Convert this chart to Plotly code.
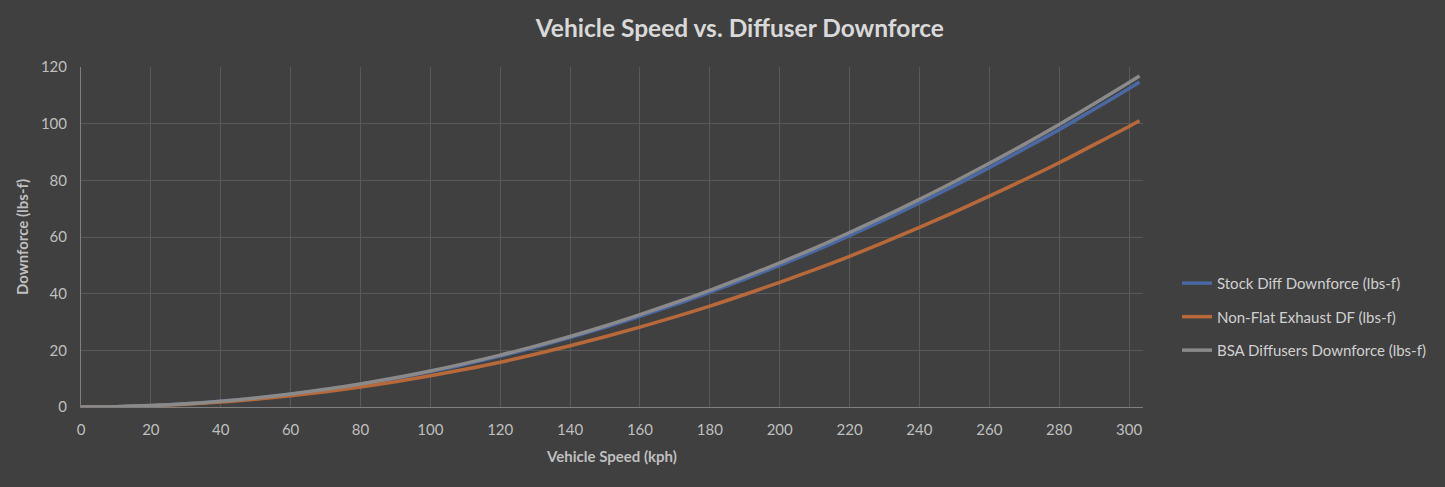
import plotly.graph_objects as go

speed = [0, 10, 20, 30, 40, 50, 60, 70, 80, 90, 100, 110, 120, 130, 140, 150,
         160, 170, 180, 190, 200, 210, 220, 230, 240, 250, 260, 270, 280, 290, 300, 303]
stock_df = [0, 0.12, 0.5, 1.12, 2.0, 3.12, 4.5, 6.12, 8.0, 10.1, 12.5, 15.1, 18.0, 21.1, 24.5, 28.1,
            32.0, 36.1, 40.5, 45.1, 50.0, 55.1, 60.5, 66.1, 72.0, 78.1, 84.5, 91.1, 97.9, 105.1, 112.4, 114.7]
nonflat_df = [0, 0.11, 0.44, 0.99, 1.76, 2.75, 3.96, 5.39, 7.04, 8.91, 11.0, 13.3, 15.8, 18.6, 21.6, 24.8,
              28.2, 31.8, 35.6, 39.7, 44.0, 48.5, 53.2, 58.2, 63.4, 68.8, 74.4, 80.2, 86.2, 92.6, 99.0, 101.0]
bsa_df = [0, 0.13, 0.51, 1.14, 2.04, 3.18, 4.58, 6.23, 8.14, 10.3, 12.7, 15.4, 18.3, 21.5, 24.9, 28.6,
          32.6, 36.8, 41.2, 45.9, 50.9, 56.1, 61.6, 67.3, 73.3, 79.5, 86.0, 92.7, 99.7, 107.0, 114.5, 116.8]

names = ["Stock Diff Downforce (lbs-f)", "Non-Flat Exhaust DF (lbs-f)", "BSA Diffusers Downforce (lbs-f)"]
colors = ["#4a68a3", "#b8693a", "#8a8a8a"]
series = [stock_df, nonflat_df, bsa_df]

FONT = "Lato, 'Open Sans', sans-serif"
fig = go.Figure()
for i, (n, c, s) in enumerate(zip(names, colors, series)):
    fig.add_trace(go.Scatter(x=speed, y=s, mode="lines", name=n, legendgroup=n,
                             line=dict(color=c, width=3.5, shape="spline")))

fig.update_layout(
    width=1445, height=487,
    paper_bgcolor="#404040", plot_bgcolor="#404040",
    margin=dict(l=81, r=302, t=67, b=80),
    font=dict(family=FONT, color="#bfbfbf", size=14),
    title=dict(text="<b>Vehicle Speed vs. Diffuser Downforce</b>", x=0.512, xanchor="center",
               y=0.942, yanchor="middle", xref="container",
               font=dict(size=24.5, color="#d9d9d9", family=FONT)),
    showlegend=True,
    legend=dict(x=1.032, y=0.265, xanchor="left", yanchor="middle", traceorder="grouped",
                tracegroupgap=11, font=dict(size=15, color="#d0d0d0"), bgcolor="rgba(0,0,0,0)"),
    xaxis=dict(range=[0, 304], dtick=20, tick0=0, showgrid=True, gridcolor="#595959", gridwidth=1,
               zeroline=False, showline=True, linecolor="#7f7f7f", linewidth=1, ticks="",
               tickfont=dict(size=15, color="#bfbfbf"), ticklabelstandoff=9,
               title=dict(text="<b>Vehicle Speed (kph)</b>", font=dict(size=15, color="#bfbfbf"), standoff=14)),
    yaxis=dict(range=[0, 120], dtick=20, tick0=0, showgrid=True, gridcolor="#595959", gridwidth=1,
               zeroline=False, showline=True, linecolor="#7f7f7f", linewidth=1, ticks="",
               tickfont=dict(size=15, color="#bfbfbf"), ticklabelstandoff=10,
               title=dict(text="<b>Downforce (lbs-f)</b>", font=dict(size=15, color="#bfbfbf"), standoff=8)),
)
fig.write_html("out.html", config={"displayModeBar": False},
               post_script="document.body.style.margin='0';document.body.style.background='#404040';")
